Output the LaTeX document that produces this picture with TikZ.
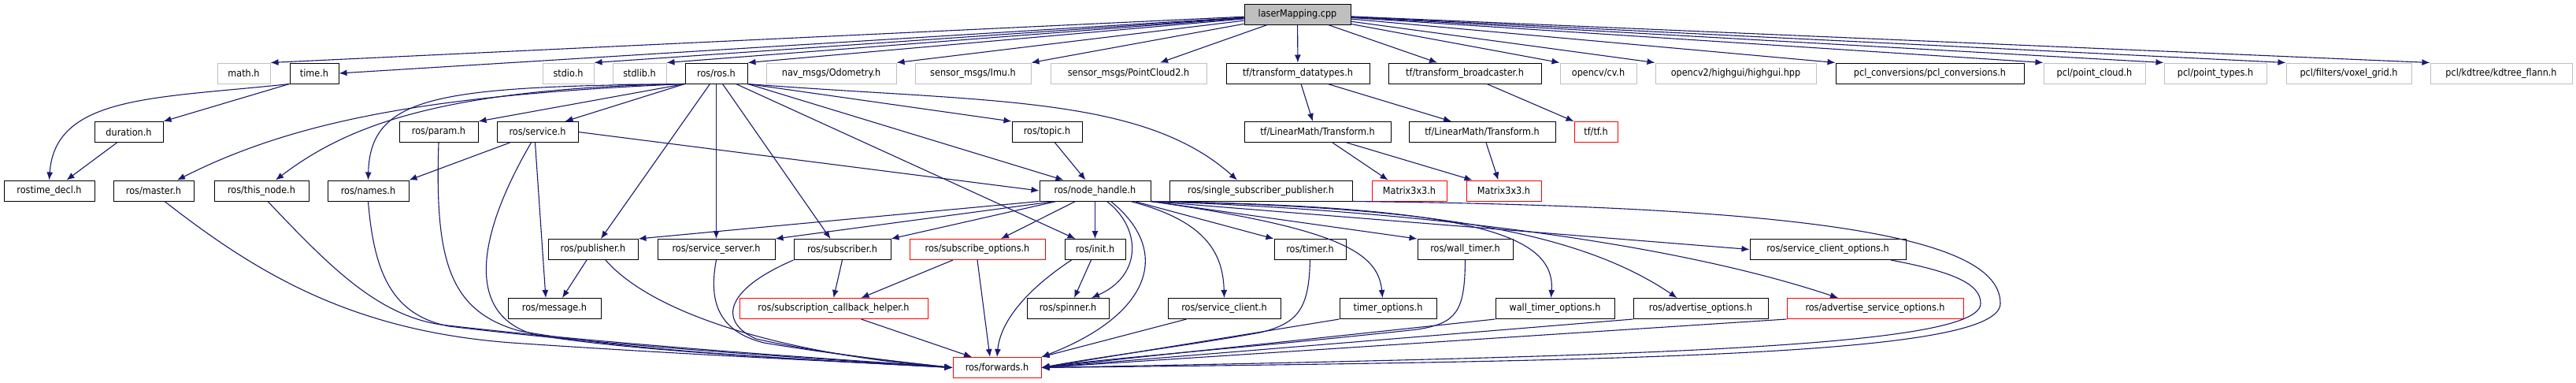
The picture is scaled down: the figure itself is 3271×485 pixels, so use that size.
\documentclass[tikz,border=0pt]{standalone}
\usepackage{fontspec}
\setmainfont{DejaVu Sans Condensed}
\usetikzlibrary{arrows.meta}

\definecolor{edgeblue}{RGB}{25,25,112}
\definecolor{sysgray}{RGB}{191,191,191}

\tikzset{
  file/.style={draw=black, line width=1pt, fill=white, minimum height=26pt,
    inner sep=0pt, font=\fontsize{12.5}{14}\selectfont},
  sysfile/.style={file, draw=sysgray},
  trunc/.style={file, draw=red},
  rootfile/.style={file, fill=sysgray},
  dep/.style={edgeblue, line width=1.1pt, -{Latex[length=10pt,width=8pt]}},
}

\begin{document}
\begin{tikzpicture}[x=1pt, y=-1pt]
\useasboundingbox (0,0) rectangle (3271,485);

% === Row 1: the source file ===
\node[rootfile, minimum width=135pt] (root) at (1647.5,18) {laserMapping.cpp};

% === Row 2: direct includes ===
\node[sysfile, minimum width=67pt]  (mathh)   at (309.5,93)  {math.h};
\node[file,    minimum width=62pt]  (timeh)   at (399,93)    {time.h};
\node[sysfile, minimum width=65pt]  (stdioh)  at (721.5,93)  {stdio.h};
\node[sysfile, minimum width=68pt]  (stdlibh) at (812,93)    {stdlib.h};
\node[file,    minimum width=79pt]  (rosh)    at (909.5,93)  {ros/ros.h};
\node[sysfile, minimum width=165pt] (odom)    at (1055.5,93) {nav\_msgs/Odometry.h};
\node[sysfile, minimum width=147pt] (imu)     at (1235.5,93) {sensor\_msgs/Imu.h};
\node[sysfile, minimum width=198pt] (pc2)     at (1433,93)   {sensor\_msgs/PointCloud2.h};
\node[file,    minimum width=182pt] (tfdt)    at (1648,93)   {tf/transform\_datatypes.h};
\node[file,    minimum width=194pt] (tfbc)    at (1860,93)   {tf/transform\_broadcaster.h};
\node[sysfile, minimum width=97pt]  (cvh)     at (2029.5,93) {opencv/cv.h};
\node[sysfile, minimum width=204pt] (highgui) at (2204,93)   {opencv2/highgui/highgui.hpp};
\node[file,    minimum width=239pt] (pclconv) at (2450.5,93) {pcl\_conversions/pcl\_conversions.h};
\node[sysfile, minimum width=129pt] (pclpc)   at (2659.5,93) {pcl/point\_cloud.h};
\node[sysfile, minimum width=130pt] (pclpt)   at (2813,93)   {pcl/point\_types.h};
\node[sysfile, minimum width=159pt] (voxel)   at (2982.5,93) {pcl/filters/voxel\_grid.h};
\node[sysfile, minimum width=180pt] (kdtree)  at (3176,93)   {pcl/kdtree/kdtree\_flann.h};

% === Row 3 ===
\node[file,  minimum width=87pt]  (duration) at (163.5,167.5) {duration.h};
\node[file,  minimum width=100pt] (param)    at (557,167.5)   {ros/param.h};
\node[file,  minimum width=103pt] (service)  at (682.5,167.5) {ros/service.h};
\node[file,  minimum width=89pt]  (topic)    at (1329.5,167.5) {ros/topic.h};
\node[file,  minimum width=186pt] (tfA)      at (1673,167.5)  {tf/LinearMath/Transform.h};
\node[file,  minimum width=186pt] (tfB)      at (1882,167.5)  {tf/LinearMath/Transform.h};
\node[trunc, minimum width=55pt]  (tftf)     at (2026.5,167.5) {tf/tf.h};

% === Row 4 ===
\node[file,  minimum width=115pt] (rostime)    at (62.5,242)   {rostime\_decl.h};
\node[file,  minimum width=102pt] (master)     at (195,242)    {ros/master.h};
\node[file,  minimum width=120pt] (thisnode)   at (332,242)    {ros/this\_node.h};
\node[file,  minimum width=103pt] (names)      at (467.5,242)  {ros/names.h};
\node[file,  minimum width=141pt] (nodehandle) at (1390.5,242) {ros/node\_handle.h};
\node[file,  minimum width=232pt] (single)     at (1601,242)   {ros/single\_subscriber\_publisher.h};
\node[trunc, minimum width=95pt]  (matrixA)    at (1789.5,242) {Matrix3x3.h};
\node[trunc, minimum width=95pt]  (matrixB)    at (1909.5,242) {Matrix3x3.h};

% === Row 5 ===
\node[file,  minimum width=114pt] (publisher)  at (753,316.5)    {ros/publisher.h};
\node[file,  minimum width=149pt] (servserver) at (909.5,316.5)  {ros/service\_server.h};
\node[file,  minimum width=123pt] (subscriber) at (1069.5,316.5) {ros/subscriber.h};
\node[trunc, minimum width=172pt] (subopts)    at (1241,316.5)   {ros/subscribe\_options.h};
\node[file,  minimum width=77pt]  (init)       at (1390.5,316.5) {ros/init.h};
\node[file,  minimum width=91pt]  (timer)      at (1663.5,316.5) {ros/timer.h};
\node[file,  minimum width=121pt] (walltimer)  at (1860.5,316.5) {ros/wall\_timer.h};
\node[file,  minimum width=198pt] (scopts)     at (2321,316.5)   {ros/service\_client\_options.h};

% === Row 6 ===
\node[file,  minimum width=118pt] (message)       at (704,391.5)    {ros/message.h};
\node[trunc, minimum width=239pt] (schelper)      at (1058.5,391.5) {ros/subscription\_callback\_helper.h};
\node[file,  minimum width=104pt] (spinner)       at (1356,391.5)   {ros/spinner.h};
\node[file,  minimum width=143pt] (servclient)    at (1554.5,391.5) {ros/service\_client.h};
\node[file,  minimum width=123pt] (timeropts)     at (1762.5,391.5) {timer\_options.h};
\node[file,  minimum width=151pt] (walltimeropts) at (1974.5,391.5) {wall\_timer\_options.h};
\node[file,  minimum width=171pt] (advopts)       at (2159.5,391.5) {ros/advertise\_options.h};
\node[trunc, minimum width=224pt] (advsrvopts)    at (2381,391.5)   {ros/advertise\_service\_options.h};

% === Row 7 ===
\node[trunc, minimum width=112pt] (forwards) at (1266,466.5) {ros/forwards.h};

% === Edges from the source file ===
\draw[dep] (root) -- (mathh.north east);
\draw[dep] (root) -- (timeh.east);
\foreach \t in {stdioh,stdlibh,rosh,odom,imu}
  \draw[dep] (root) -- (\t.north east);
\draw[dep] (root) -- ([xshift=40pt]pc2.north);
\draw[dep] (root) -- (tfdt);
\draw[dep] (root) -- ([xshift=-35pt]tfbc.north);
\foreach \t in {cvh,highgui,pclconv,pclpc,pclpt,voxel,kdtree}
  \draw[dep] (root) -- (\t.north west);

% === time.h ===
\draw[dep] (timeh.south west) .. controls (200,125) and (70,120) .. (rostime.north);
\draw[dep] (timeh.south west) -- (duration.north east);
\draw[dep] ([xshift=-15pt]duration.south) -- ([xshift=22pt]rostime.north);

% === ros/ros.h ===
\draw[dep] (rosh.south west) .. controls (560,120) and (380,150) .. ([xshift=30pt]master.north);
\draw[dep] (rosh.south west) .. controls (560,112) and (440,160) .. ([xshift=18pt]thisnode.north);
\draw[dep] (rosh.south west) .. controls (560,110) and (470,120) .. (names.north);
\draw[dep] (rosh.south west) -- (param.north east);
\draw[dep] (rosh.south west) -- ([xshift=35pt]service.north);
\draw[dep] ([xshift=-8pt]rosh.south) -- ([xshift=10pt]publisher.north);
\draw[dep] (rosh) -- (servserver);
\draw[dep] ([xshift=8pt]rosh.south) -- ([xshift=-15pt]subscriber.north);
\draw[dep] ([xshift=25pt]rosh.south) -- ([xshift=-25pt]init.north);
\draw[dep] (rosh.south east) -- ([xshift=-40pt]nodehandle.north);
\draw[dep] (rosh.south east) -- (topic.north west);
\draw[dep] (rosh.south east) .. controls (1250,130) and (1450,120) .. ([xshift=-30pt]single.north);

% === ros/service.h, ros/topic.h ===
\draw[dep] ([xshift=-35pt]service.south) -- (names.north east);
\draw[dep] ([xshift=-3pt]service.south) -- ([xshift=-11pt]message.north);
\draw[dep] (service.east) -- (nodehandle.west);
\draw[dep] ([xshift=10pt]topic.south) -- ([xshift=-12pt]nodehandle.north);

% === tf ===
\draw[dep] ([xshift=4pt]tfdt.south) -- ([xshift=-6pt]tfA.north);
\draw[dep] ([xshift=38pt]tfdt.south) -- ([xshift=-39pt]tfB.north);
\draw[dep] ([xshift=28pt]tfbc.south) -- (tftf.north west);
\draw[dep] ([xshift=19pt]tfA.south) -- ([xshift=-27pt]matrixA.north);
\draw[dep] ([xshift=37pt]tfA.south) -- ([xshift=-40pt]matrixB.north);
\draw[dep] ([xshift=5pt]tfB.south) -- ([xshift=-7pt]matrixB.north);

% === ros/node_handle.h ===
\draw[dep] (nodehandle.south west) -- (publisher.north east);
\draw[dep] ([xshift=20pt]nodehandle.south west) -- (servserver.north east);
\draw[dep] ([xshift=22pt]nodehandle.south west) -- (subscriber.north east);
\draw[dep] ([xshift=-25pt]nodehandle.south) -- ([xshift=30pt]subopts.north);
\draw[dep] (nodehandle) -- (init);
\draw[dep] ([xshift=15pt]nodehandle.south) .. controls (1450,290) and (1450,350) .. ([xshift=30pt]spinner.north);
\draw[dep] ([xshift=20pt]nodehandle.south) .. controls (1490,320) and (1460,400) .. (forwards.north east);
\draw[dep] ([xshift=45pt]nodehandle.south) .. controls (1530,280) and (1553,320) .. (servclient.north);
\draw[dep] ([xshift=50pt]nodehandle.south) -- (timer.north west);
\draw[dep] (nodehandle.south east) .. controls (1700,290) and (1750,320) .. ([xshift=-7pt]timeropts.north);
\draw[dep] (nodehandle.south east) -- (walltimer.north west);
\draw[dep] (nodehandle.south east) .. controls (1880,262) and (1975,300) .. ([xshift=-5pt]walltimeropts.north);
\draw[dep] (nodehandle.south east) .. controls (1800,262) and (2000,290) .. ([xshift=-30pt]advopts.north);
\draw[dep] (nodehandle.south east) .. controls (1750,265) and (2100,300) .. ([xshift=-47pt]advsrvopts.north);
\draw[dep] (nodehandle.south east) -- (scopts.west);

% === row 5 to row 6 ===
\draw[dep] ([xshift=-8pt]publisher.south) -- ([xshift=10pt]message.north);
\draw[dep] ([xshift=-31pt]subopts.south) -- ([xshift=35pt]schelper.north);
\draw[dep] (subscriber.south) -- (schelper.north);
\draw[dep] ([xshift=-5pt]init.south) -- ([xshift=8pt]spinner.north);

% === into ros/forwards.h, from the left ===
\draw[dep] ([xshift=14pt]master.south) .. controls (330,350) and (450,420) .. (650,435)
  .. controls (900,452) and (1100,460) .. (forwards.west);
\draw[dep] ([xshift=8pt]thisnode.south) .. controls (420,340) and (480,400) .. (560,412)
  .. controls (800,440) and (1100,458) .. (forwards.west);
\draw[dep] (names.south) .. controls (475,350) and (500,400) .. (570,414)
  .. controls (800,442) and (1100,459) .. (forwards.west);
\draw[dep] (param.south) .. controls (552,330) and (570,395) .. (660,420)
  .. controls (800,445) and (1000,455) .. (forwards.west);
\draw[dep] ([xshift=-8pt]service.south) .. controls (605,300) and (590,400) .. (680,425)
  .. controls (800,445) and (1000,455) .. (forwards.west);
\draw[dep] ([xshift=16pt]publisher.south) .. controls (830,400) and (1000,450) .. (forwards.west);
\draw[dep] (servserver.south) .. controls (900,380) and (910,420) .. (970,435)
  .. controls (1060,450) and (1150,460) .. (forwards.west);
\draw[dep] (subscriber.south west) .. controls (915,370) and (915,410) .. (960,430)
  .. controls (1050,450) and (1150,460) .. (forwards.west);
\draw[dep] ([xshift=35pt]schelper.south) -- ([xshift=-32pt]forwards.north);
\draw[dep] (subopts.south) -- ([xshift=-9pt]forwards.north);
\draw[dep] ([xshift=-30pt]init.south) .. controls (1300,370) and (1270,410) .. (forwards.north);

% === into ros/forwards.h, from the right ===
\draw[dep] ([xshift=-48pt]servclient.south) -- (forwards.north east);
\draw[dep] (timer.south) .. controls (1662,390) and (1650,410) .. (1600,422)
  .. controls (1500,440) and (1400,452) .. (forwards.east);
\draw[dep] (timeropts.south west) -- (forwards.east);
\draw[dep] (walltimer.south) .. controls (1860,395) and (1850,410) .. (1800,418)
  .. controls (1600,440) and (1400,455) .. (forwards.east);
\draw[dep] (walltimeropts.south west) -- (forwards.east);
\draw[dep] (advopts.south west) -- (forwards.east);
\draw[dep] (advsrvopts.south west) -- (forwards.east);
\draw[dep] ([xshift=80pt]scopts.south) .. controls (2480,345) and (2515,360) .. (2515,385)
  .. controls (2515,440) and (2100,452) .. (forwards.east);
\draw[dep] (single.south east) .. controls (2300,262) and (2540,300) .. (2540,385)
  .. controls (2540,450) and (2100,458) .. (forwards.east);

\end{tikzpicture}
\end{document}
